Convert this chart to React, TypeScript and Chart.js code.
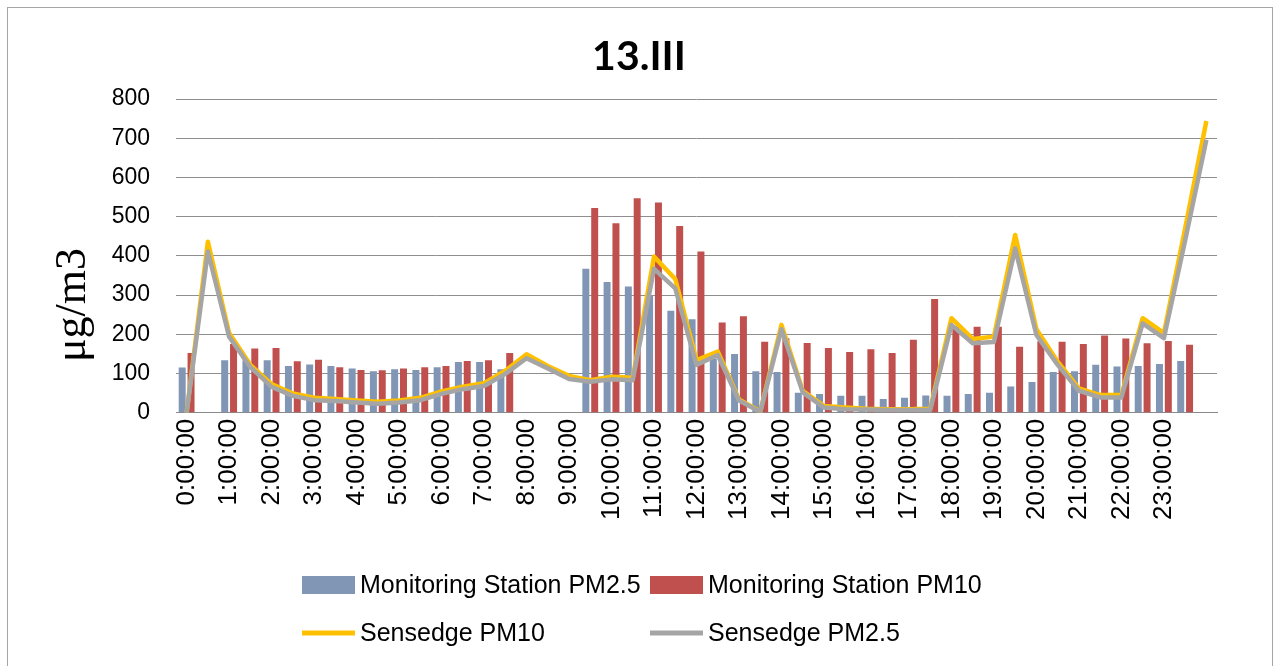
import React, { useEffect, useRef } from 'react';
import { Chart, registerables } from 'chart.js';

Chart.register(...registerables);

const TITLE = '13.III';
const Y_TITLE = 'μg/m3';

const TIME_LABELS = [
  '0:00:00', '0:30:00', '1:00:00', '1:30:00', '2:00:00', '2:30:00', '3:00:00', '3:30:00',
  '4:00:00', '4:30:00', '5:00:00', '5:30:00', '6:00:00', '6:30:00', '7:00:00', '7:30:00',
  '8:00:00', '8:30:00', '9:00:00', '9:30:00', '10:00:00', '10:30:00', '11:00:00', '11:30:00',
  '12:00:00', '12:30:00', '13:00:00', '13:30:00', '14:00:00', '14:30:00', '15:00:00', '15:30:00',
  '16:00:00', '16:30:00', '17:00:00', '17:30:00', '18:00:00', '18:30:00', '19:00:00', '19:30:00',
  '20:00:00', '20:30:00', '21:00:00', '21:30:00', '22:00:00', '22:30:00', '23:00:00', '23:30:00',
  '24:00:00',
];

const STATION_PM25 = [
  115, null, 134, 133, 134, 119, 123, 119, 113, 106, 111, 109, 116, 129, 129, 111,
  null, null, null, 367, 333, 322, 300, 260, 238, 138, 150, 106, 104, 51, 48, 43,
  43, 35, 38, 44, 43, 48, 51, 67, 78, 104, 106, 122, 118, 119, 124, 132,
  null,
];

const STATION_PM10 = [
  152, null, 175, 164, 165, 131, 135, 116, 109, 108, 113, 116, 119, 132, 134, 152,
  null, null, null, 522, 483, 547, 536, 476, 411, 230, 246, 181, 190, 178, 165, 155,
  162, 152, 186, 290, 220, 219, 219, 168, 182, 181, 175, 197, 189, 177, 183, 173,
  null,
];

const SENSEDGE_PM10 = [
  0, 436, 203, 122, 73, 49, 38, 35, 31, 28, 31, 38, 54, 66, 75, 107,
  149, 119, 94, 83, 92, 89, 398, 341, 134, 156, 34, 3, 224, 56, 17, 13,
  10, 9, 9, 10, 241, 188, 194, 453, 213, 130, 62, 45, 45, 241, 203, 470,
  744,
];

const SENSEDGE_PM25 = [
  0, 411, 194, 116, 66, 43, 32, 30, 26, 23, 26, 32, 48, 60, 68, 99,
  139, 113, 86, 79, 85, 83, 367, 317, 122, 147, 31, 2, 213, 52, 13, 9,
  8, 7, 7, 7, 224, 177, 180, 419, 198, 122, 56, 39, 39, 228, 190, 439,
  696,
];

const SERIES_NAMES = [
  'Monitoring Station PM2.5',
  'Monitoring Station PM10',
  'Sensedge PM10',
  'Sensedge PM2.5',
];

const COLOR_PM25_BAR = '#8096B4';
const COLOR_PM10_BAR = '#C0504D';
const COLOR_SENS_PM10 = '#FFC000';
const COLOR_SENS_PM25 = '#A5A5A5';

const W = 1264;
const H = 658;

const overlayPlugin = {
  id: 'overlay',
  afterDraw(chart: any) {
    const ctx = chart.ctx as CanvasRenderingContext2D;
    ctx.save();
    ctx.fillStyle = '#000';

    // Title
    ctx.font = 'bold 41px Lato';
    ctx.textAlign = 'center';
    ctx.textBaseline = 'middle';
    ctx.fillText(TITLE, chart.width / 2 - 1, 49);

    // Y axis title
    ctx.save();
    ctx.translate(65, 297);
    ctx.rotate(-Math.PI / 2);
    ctx.font = '44px "Liberation Serif"';
    ctx.textAlign = 'center';
    ctx.textBaseline = 'middle';
    ctx.fillText(Y_TITLE, 0, 0);
    ctx.restore();

    // Legend (2 x 2 grid)
    const cols = [294, 642];
    const rows = [577, 625];
    chart.data.datasets.forEach((ds: any, i: number) => {
      const x = cols[i % 2];
      const y = rows[Math.floor(i / 2)];
      if (ds.type === 'line') {
        ctx.strokeStyle = ds.borderColor;
        ctx.lineWidth = 5;
        ctx.beginPath();
        ctx.moveTo(x, y);
        ctx.lineTo(x + 53, y);
        ctx.stroke();
      } else {
        ctx.fillStyle = ds.backgroundColor;
        ctx.fillRect(x, y - 9, 53, 18);
      }
      ctx.fillStyle = '#000';
      ctx.font = '25px "Liberation Sans"';
      ctx.textAlign = 'left';
      ctx.textBaseline = 'middle';
      ctx.fillText(ds.label, x + 58, y + 1);
    });
    ctx.restore();
  },
};

export default function App() {
  const canvasRef = useRef<HTMLCanvasElement | null>(null);

  useEffect(() => {
    document.documentElement.style.overflow = 'hidden';
    document.body.style.overflow = 'hidden';
    const canvas = canvasRef.current;
    if (!canvas) return;
    const chart = new Chart(canvas, {
      type: 'bar',
      data: {
        labels: TIME_LABELS,
        datasets: [
          {
            type: 'bar',
            label: SERIES_NAMES[0],
            data: STATION_PM25,
            backgroundColor: COLOR_PM25_BAR,
            order: 2,
            barPercentage: 0.79,
            categoryPercentage: 0.833,
          },
          {
            type: 'bar',
            label: SERIES_NAMES[1],
            data: STATION_PM10,
            backgroundColor: COLOR_PM10_BAR,
            order: 3,
            barPercentage: 0.79,
            categoryPercentage: 0.833,
          },
          {
            type: 'line',
            label: SERIES_NAMES[2],
            data: SENSEDGE_PM10,
            borderColor: COLOR_SENS_PM10,
            backgroundColor: COLOR_SENS_PM10,
            borderWidth: 4.5,
            pointRadius: 0,
            tension: 0,
            borderJoinStyle: 'round',
            order: 1,
          },
          {
            type: 'line',
            label: SERIES_NAMES[3],
            data: SENSEDGE_PM25,
            borderColor: COLOR_SENS_PM25,
            backgroundColor: COLOR_SENS_PM25,
            borderWidth: 4.5,
            pointRadius: 0,
            tension: 0,
            borderJoinStyle: 'round',
            order: 0,
          },
        ] as any,
      },
      options: {
        responsive: false,
        animation: false,
        devicePixelRatio: 1,
        layout: { padding: { top: 91, right: 55, left: 0, bottom: 0 } },
        plugins: {
          legend: { display: false },
          title: { display: false },
          tooltip: { enabled: false },
        },
        scales: {
          x: {
            grid: { display: false, drawTicks: false },
            border: { display: true, color: '#8a8a8a', width: 1 },
            ticks: {
              autoSkip: false,
              minRotation: 90,
              maxRotation: 90,
              padding: 6,
              color: '#000',
              font: { size: 26, family: 'Liberation Sans' },
              callback: (_v: any, i: number) =>
                i % 2 === 0 && i < TIME_LABELS.length - 1 ? TIME_LABELS[i] : '',
            },
            afterFit: (s: any) => {
              s.height = 253.3;
            },
          },
          y: {
            min: 0,
            max: 800,
            ticks: {
              stepSize: 100,
              padding: 26,
              color: '#000',
              font: { size: 23, family: 'Liberation Sans' },
            },
            grid: { color: '#8e8e8e', drawTicks: false, lineWidth: 1 },
            border: { display: false },
            afterFit: (s: any) => {
              s.width = 168;
            },
          },
        },
      } as any,
      plugins: [overlayPlugin],
    });
    return () => chart.destroy();
  }, []);

  return (
    <div
      style={{
        position: 'fixed',
        left: 7,
        top: 7,
        boxSizing: 'border-box',
        width: W + 2,
        height: H + 10,
        border: '1px solid #a6a6a6',
        background: '#fff',
      }}
    >
      <canvas ref={canvasRef} width={W} height={H} style={{ display: 'block', width: W, height: H }} />
    </div>
  );
}
